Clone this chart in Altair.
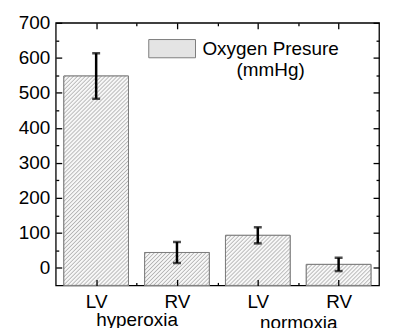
import json
import altair as alt
import pandas as pd

# ---- data ----
positions = [1, 2, 3, 4]
sites = ["LV", "RV", "LV", "RV"]
oxygen = [548, 44, 93, 10]
errors = [65, 30, 23, 19]
group_pos = [1.5, 3.5]
groups = ["hyperoxia", "normoxia"]
y_major = [0, 100, 200, 300, 400, 500, 600, 700]
y_minor = [50, 150, 250, 350, 450, 550, 650]
x_minor = [1.5, 2.5, 3.5]
series_name = "Oxygen Presure"
legend_unit = "(mmHg)"

df = pd.DataFrame({"pos": positions, "site": sites, "value": oxygen,
                   "err": errors, "series": [series_name] * len(positions)})
gdf = pd.DataFrame({"gpos": group_pos, "group": groups})

W, H = 325, 264
X_DOMAIN = [0.5, 4.5]
Y_DOMAIN = [-50, 700]
FONT = "Liberation Sans"
FS = 19
BAR_HALF = 0.4
FILL = "#f7f7f7"
EDGE = "#7d7d7d"
HATCH = "#b4b4b4"

xs = alt.Scale(domain=X_DOMAIN, nice=False, zero=False)
ys = alt.Scale(domain=Y_DOMAIN, nice=False, zero=False)


def tick_axis(orient, values, size, **kw):
    base = dict(orient=orient, values=values, tickSize=size, offset=-size,
                domain=False, grid=False, labels=False, ticks=True,
                tickColor="black", tickWidth=1.3, title=None, zindex=1)
    base.update(kw)
    return alt.Axis(**base)


label_kw = dict(labels=True, labelFont=FONT, labelFontSize=FS, labelColor="black")

site_expr = f"{json.dumps(sites)}[datum.value - 1]"
group_expr = f"{json.dumps(groups)}[(datum.value - 1.5) / 2]"

base = alt.Chart(df).transform_calculate(
    x0=f"datum.pos - {BAR_HALF}", x1=f"datum.pos + {BAR_HALF}",
    hi="datum.value + datum.err", lo="datum.value - datum.err")

legend_path = "M-1,-0.39L1,-0.39L1,0.39L-1,0.39Z"

bars = base.mark_rect(stroke=EDGE, strokeWidth=1).encode(
    x=alt.X("x0:Q", scale=xs,
            axis=tick_axis("bottom", positions, 6, labelExpr=site_expr,
                           labelPadding=7, **label_kw)),
    x2="x1:Q",
    y=alt.Y("value:Q", scale=ys,
            axis=tick_axis("left", y_major, 6, labelPadding=6, **label_kw)),
    y2=alt.datum(Y_DOMAIN[0]),
    color=alt.Color("series:N", scale=alt.Scale(range=["#e4e4e4"]),
                    legend=alt.Legend(orient="none", legendX=93, legendY=2,
                                      title=None, labelFont=FONT,
                                      labelFontSize=FS, labelColor="black",
                                      labelAlign="center", labelOffset=75,
                                      labelLimit=400,
                                      labelExpr=json.dumps([series_name, legend_unit]),
                                      symbolType=legend_path, symbolSize=2209,
                                      symbolStrokeColor=EDGE, symbolStrokeWidth=1,
                                      padding=0)),
)


# diagonal hatch pattern ("////") as a striped gradient, one per bar
def hatch_fill(value, step=4.0, half=1.2):
    w = 2 * BAR_HALF * W / (X_DOMAIN[1] - X_DOMAIN[0])
    h = (value - Y_DOMAIN[0]) * H / (Y_DOMAIN[1] - Y_DOMAIN[0])
    s = (w + h) / (w * w + h * h)
    total = w + h
    stops = [{"offset": 0, "color": FILL}]
    q = step / 2
    while q + half < total:
        stops += [{"offset": (q - half) / total, "color": FILL},
                  {"offset": q / total, "color": HATCH},
                  {"offset": (q + half) / total, "color": FILL}]
        q += step
    stops.append({"offset": 1, "color": FILL})
    return {"gradient": "linear", "x1": 0, "y1": 0, "x2": s * w, "y2": s * h,
            "stops": stops}


hatches = []
for p, v in zip(positions, oxygen):
    hatches.append(
        base.transform_filter(f"datum.pos == {p}").mark_rect(
            fill=hatch_fill(v), stroke=EDGE, strokeWidth=1).encode(
            x=alt.X("x0:Q", scale=xs, axis=None), x2="x1:Q",
            y=alt.Y("value:Q", scale=ys, axis=None), y2=alt.datum(Y_DOMAIN[0]))
    )

err_rule = base.mark_rule(color="black", strokeWidth=2.5).encode(
    x=alt.X("pos:Q", scale=xs, axis=tick_axis("top", positions, 6)),
    y=alt.Y("lo:Q", scale=ys, axis=tick_axis("right", y_major, 6)),
    y2="hi:Q",
)

cap_hi = base.mark_tick(orient="horizontal", size=8, thickness=2.5, color="black").encode(
    x=alt.X("pos:Q", scale=xs, axis=tick_axis("bottom", x_minor, 3)),
    y=alt.Y("hi:Q", scale=ys, axis=tick_axis("left", y_minor, 3)),
)

cap_lo = base.mark_tick(orient="horizontal", size=8, thickness=2.5, color="black").encode(
    x=alt.X("pos:Q", scale=xs, axis=tick_axis("top", x_minor, 3)),
    y=alt.Y("lo:Q", scale=ys, axis=tick_axis("right", y_minor, 3)),
)

group_layer = alt.Chart(gdf).mark_point(opacity=0).encode(
    x=alt.X("gpos:Q", scale=xs,
            axis=alt.Axis(orient="bottom", values=group_pos, tickSize=0, ticks=True,
                          tickOpacity=0, domain=False, grid=False, title=None,
                          labelExpr=group_expr,
                          labelPadding={"condition": {"test": "datum.value > 2.5", "value": 28},
                                        "value": 25},
                          zindex=1, **label_kw)),
)

chart = alt.layer(bars, *hatches, err_rule, cap_hi, cap_lo, group_layer).resolve_axis(
    x="independent", y="independent"
).properties(
    width=W, height=H,
    padding={"left": 10, "top": 5, "right": 5, "bottom": 5},
).configure_view(stroke="black", strokeWidth=1.3)

chart.save("out.html", embed_options={"renderer": "svg", "actions": False})
